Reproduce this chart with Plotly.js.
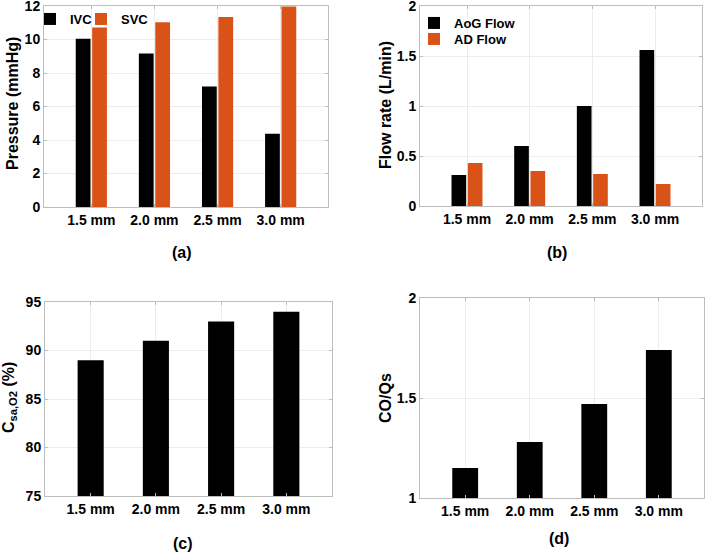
<!DOCTYPE html>
<html>
<head>
<meta charset="utf-8">
<script src="https://cdn.plot.ly/plotly-3.0.1.min.js"></script>
<style>
  html, body { margin: 0; padding: 0; background: #fff; }
  #chart { width: 706px; height: 553px; }
</style>
</head>
<body>
<div id="chart"></div>
<script>
// cannula sizes on every x axis
var sizes = ["1.5 mm", "2.0 mm", "2.5 mm", "3.0 mm"];

// (a) pressures, mmHg
var ivcPressure = [10.05, 9.17, 7.2, 4.37];
var svcPressure = [10.72, 11.03, 11.35, 11.97];

// (b) flow rates, L/min
var aogFlow = [0.31, 0.60, 1.0, 1.56];
var adFlow = [0.43, 0.35, 0.32, 0.22];

// (c) saturation, %
var csaO2 = [89, 91, 93, 94];

// (d) CO/Qs ratio
var coQs = [1.15, 1.28, 1.47, 1.74];

var W = 706, H = 553;
var orange = "#D95319";
var fnt = "Liberation Sans, Arial, Helvetica, sans-serif";

function fx(px) { return px / W; }
function fy(px) { return 1 - px / H; }

function xax(left, right, rng, anchor) {
  return {
    domain: [fx(left), fx(right)], anchor: anchor,
    type: "category", range: rng,
    showgrid: true, gridcolor: "#ececec", gridwidth: 1,
    showline: true, linecolor: "#bdbdbd", linewidth: 1, mirror: "ticks",
    ticks: "inside", ticklen: 3, tickcolor: "#bdbdbd",
    tickfont: {family: fnt, size: 14, color: "#000", weight: "bold"},
    zeroline: false, fixedrange: true
  };
}
function yax(top, bottom, rng, dtick, anchor) {
  return {
    domain: [fy(bottom), fy(top)], anchor: anchor,
    range: rng, dtick: dtick, tick0: rng[0],
    showgrid: true, gridcolor: "#ececec", gridwidth: 1,
    showline: true, linecolor: "#bdbdbd", linewidth: 1, mirror: "ticks",
    ticks: "inside", ticklen: 3, tickcolor: "#bdbdbd",
    ticklabeloverflow: "allow",
    tickfont: {family: fnt, size: 14, color: "#000", weight: "bold"},
    zeroline: false, fixedrange: true
  };
}

// one legend per entry so each can sit where the reference puts it
function leg(left, top) {
  return {
    orientation: "v", x: fx(left), y: fy(top), xanchor: "left", yanchor: "top",
    bgcolor: "rgba(0,0,0,0)", borderwidth: 0,
    font: {family: fnt, size: 13, color: "#000", weight: "bold"}
  };
}

var data = [
  {type: "bar", x: sizes, y: ivcPressure, name: "IVC", xaxis: "x", yaxis: "y",
   marker: {color: "#000"}, legend: "legend"},
  {type: "bar", x: sizes, y: svcPressure, name: "SVC", xaxis: "x", yaxis: "y",
   marker: {color: orange}, legend: "legend2"},
  {type: "bar", x: sizes, y: aogFlow, name: "AoG Flow", xaxis: "x2", yaxis: "y2",
   marker: {color: "#000"}, legend: "legend3"},
  {type: "bar", x: sizes, y: adFlow, name: "AD Flow", xaxis: "x2", yaxis: "y2",
   marker: {color: orange}, legend: "legend4"},
  {type: "bar", x: sizes, y: csaO2, xaxis: "x3", yaxis: "y3", width: 0.4,
   marker: {color: "#000"}, showlegend: false},
  {type: "bar", x: sizes, y: coQs, xaxis: "x4", yaxis: "y4", width: 0.4,
   marker: {color: "#000"}, showlegend: false}
];

function note(text, x, y, size, angle) {
  return {
    text: text, xref: "paper", yref: "paper", x: fx(x), y: fy(y),
    xanchor: "center", yanchor: "middle", showarrow: false,
    textangle: angle || 0,
    font: {family: fnt, size: size, color: "#000", weight: "bold"}
  };
}

var layout = {
  width: W, height: H,
  margin: {l: 0, r: 0, t: 0, b: 0},
  paper_bgcolor: "#fff", plot_bgcolor: "#fff",
  barmode: "group", bargap: 0.48, bargroupgap: 0.1,
  xaxis: xax(44, 328, [-0.75, 3.75], "y"),
  yaxis: yax(6, 207, [0, 12], 2, "x"),
  xaxis2: xax(420, 702, [-0.75, 3.75], "y2"),
  yaxis2: yax(6, 206, [0, 2], 0.5, "x2"),
  xaxis3: xax(45, 332, [-0.7, 3.7], "y3"),
  yaxis3: yax(302, 496, [75, 95], 5, "x3"),
  xaxis4: xax(420, 704, [-0.7, 3.7], "y4"),
  yaxis4: yax(298, 498, [1, 2], 0.5, "x4"),
  legend: leg(30, 4),
  legend2: leg(81, 4),
  legend3: leg(414, 8),
  legend4: leg(414, 24),
  annotations: [
    note("Pressure (mmHg)", 13, 104, 16, -90),
    note("Flow rate (L/min)", 385, 105, 16, -90),
    note("C<sub>sa,O2</sub> (%)", 9, 398, 16, -90),
    note("CO/Qs", 385, 398, 16, -90),
    note("(a)", 182, 252, 16),
    note("(b)", 557, 252, 16),
    note("(c)", 183, 543, 16),
    note("(d)", 559, 538, 16)
  ]
};

Plotly.newPlot("chart", data, layout, {displayModeBar: false, staticPlot: true});
</script>
</body>
</html>
